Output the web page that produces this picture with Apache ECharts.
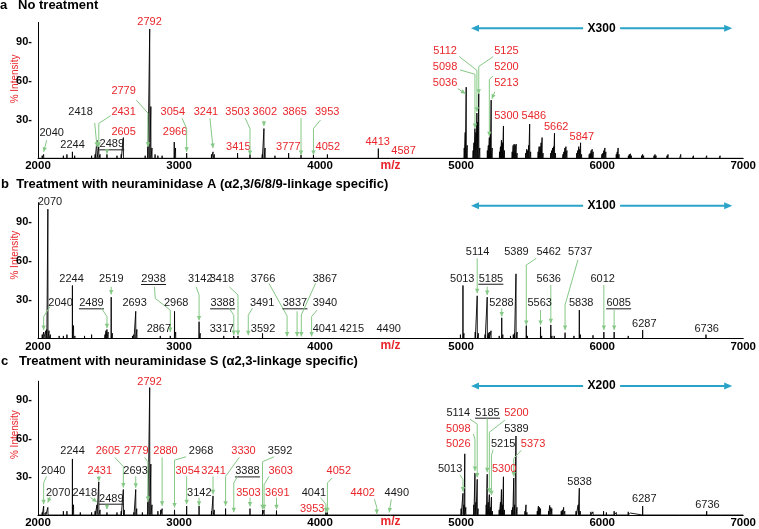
<!DOCTYPE html>
<html><head><meta charset="utf-8">
<script src="https://cdn.jsdelivr.net/npm/echarts@6/dist/echarts.min.js"></script>
<style>html,body{margin:0;padding:0;background:#fff}#c{width:759px;height:529px}</style>
</head><body><div id="c"></div>
<script>
// ---------------- spectra (m/z, % intensity) ----------------
const mzA = [2030,2040,2070,2180,2205,2244,2260,2300,2380,2405,2418,2431,2440,2489,2560,2590,2605,2700,2760,2779,2792,2800,2808,2830,2850,2880,2966,2975,3054,3230,3241,3250,3330,3415,3503,3590,3602,3610,3680,3777,3865,3953,4052,4413,4587,
 5022,5029,5036,5043,5085,5091,5098,5105,5112,5118,5125,5132,5186,5193,5200,5207,5213,5220,5272,5279,5286,5293,5300,5307,5362,5369,5376,5383,5390,5397,5458,5465,5472,5479,5486,5493,5546,5553,5560,5567,5574,5581,5635,5642,5649,5656,5662,5669,5722,5729,5736,5743,5750,5820,5827,5834,5841,5847,5854,5908,5915,5922,5929,5936,5998,6005,6012,6019,6026,6100,6107,6113,6120,6186,6193,6200,6207,6280,6287,6294,6368,6375,6382,6460,6467,6474,6550,6557,6564,6640,6647,6735,6741,6830,6836,6925,6930];
const intA = [2,3,1.5,2,3,5,2,1.5,2,3,14,9,3,3,2,3,16,1.5,2,9,100,40,8,3,2,2,12.5,8,4,3,5,3,1.5,4,3,3,23,8,2,4,2.5,2.5,3,7.5,1,
 8,20,55,10,6,12,23,20,35,28,50,8,6,10,16,20,45,8,5,9,14,12,25,6,5,10,11,10,11,4,4,7,6,10,26.5,5,5,9,9,12,16,4,4,6,8,9,19.5,4,3,5,8,9,6,4,6,9,7,12,3,3,4,6,7,5,3,4,6,8,5,3,5,8,3,2,3,3.5,2,2,3,2,2,3,2,2,3,1.5,1.5,3,1.5,1.5,2,1.5,2,1.5,2,1,1.5];

const mzB = [2030,2040,2055,2062,2070,2078,2088,2150,2180,2205,2244,2252,2262,2290,2330,2380,2420,2475,2482,2489,2497,2519,2527,2560,2670,2680,2693,2701,2760,2867,2938,2968,2976,3050,3142,3150,3317,3388,3418,3491,3592,3766,3837,3867,3940,4041,4215,4490,
 4995,5013,5020,5100,5114,5122,5170,5185,5193,5200,5212,5270,5288,5296,5350,5370,5378,5389,5397,5462,5470,5563,5571,5636,5644,5660,5737,5800,5838,5846,5935,6012,6085,6185,6287,6295,6380,6460,6540,6640,6736,6840,6930];
const intB = [3,5,6,7,100,6,3,2,2,3,41,10,2,1.5,2,3,1.5,3,6,7,5,32,4,1.5,2,3,21,7,1.5,2,2,21,5,1.5,13,4,2,2,2,1.5,4,1.5,1.5,1.5,1.5,1.5,1,1,
 3,41,4,5,33,4,3,32,4,5,6,2,16,3,2,3,4,50,5,10,2,9,2,10.5,2,2,4.5,2,22,3,2.5,5,5,2,6.5,1.5,1.5,1.5,1.5,1,3,1,1];

const mzC = [2030,2040,2055,2070,2180,2205,2244,2252,2300,2380,2405,2418,2431,2440,2489,2560,2590,2605,2612,2680,2693,2700,2740,2779,2792,2800,2808,2850,2870,2880,2968,3054,3142,3230,3241,3250,3330,3388,3503,3592,3603,3691,3953,4041,4052,4402,4490,
 5000,5013,5020,5026,5033,5090,5098,5105,5114,5120,5178,5185,5192,5200,5207,5215,5222,5270,5279,5286,5293,5300,5307,5360,5366,5373,5380,5389,5396,5453,5460,5467,5540,5548,5555,5563,5620,5628,5636,5643,5710,5718,5727,5735,5815,5830,5838,5845,5920,5935,6010,6030,6085,6100,6185,6200,6287,6295,6375,6460,6550,6640,6741,6840,6930];
const intC = [2,7,2,6,3,3,44,8,2,2,3,8,26,4,2,2,3,20,4,2,20,5,2,10,100,40,8,3,4,5,4,7,7,3,15,4,5,1.5,5,4,4,3.5,1,2,2,1,1,
 5,17,8,48,6,8,33,10,28,5,8,32,10,16,6,14,3,4,10,20,8,30,4,4,6,29,8,62,6,3,8,2,3,7,6,5,3,7.5,6,5,3,4,6,3,3,8,21,3,2.5,2.5,3,2,3,2,2.5,1.5,7,1.5,1.5,1.5,1.5,1.5,3,1,1];

// ---------------- peak annotations ----------------
const labA = ['2040','2244','2418','2431','2489','2605','2792','2779','2966','3054','3241','3415','3503','3602','3777','3865','3953','4052','4413','4587','5112','5125','5098','5200','5036','5213','5300','5486','5662','5847'];
const redA = [0,0,0,1,0,1,1,1,1,1,1,1,1,1,1,1,1,1,1,1,1,1,1,1,1,1,1,1,1,1];
const ulA  = ['2489'];
const labAx = [2097,2245,2302,2607,2523,2607,2791,2607,2972,2956,3191,3420,3415,3608,3775,3820,4050,4055,4408,4592,4886,5321,4886,5321,4886,5321,5321,5515,5674,5856];
const labAy = [19.8,10.3,36,36,10.8,20,105.2,52,20,36,36,9,36,36,9,36,36,9,12.8,5.6,83.2,83.2,70.8,70.8,58.5,58.5,32.7,32.7,24,16.7];
const arrA = [[[2062,14],[2040,5]], null, [[2402,27.3],[2418,9]], [[2516,33],[2431,27],[2431,9]], [[2489,6.5],[2489,3.5]], null, null,
 [[2697,45],[2779,35],[2779,9]], null, [[3021,31],[3054,23],[3054,5]], [[3219,31],[3241,8]], null, [[3469,31],[3503,23],[3503,2.5]],
 [[3602,29],[3602,25]], null, [[3865,31],[3865,2.5]], [[4003,29.6],[3953,23],[3953,2.5]], null, null, null,
 [[4987,78.6],[5112,68],[5112,36]], [[5227,78.6],[5125,71],[5125,50]], [[4992,68.3],[5098,65],[5098,23.5]], [[5227,63.7],[5200,61],[5200,17]],
 [[4975,54],[5030,50]], [[5239,51.5],[5218,46]], null, null, null, null];

const labB = ['2070','2040','2244','2489','2519','2693','2938','2867','2968','3142','3317','3388','3418','3491','3592','3766','3837','3867','3940','4041','4215','4490','5013','5114','5185','5288','5389','5462','5636','5563','5737','5838','6012','6085','6287','6736'];
const redB = labB.map(() => 0);
const ulB  = ['2489','2938','3388','3837','5185','6085'];
const labBx = [2085,2160,2238,2379,2520,2685,2819,2857,2980,3151,3304,3309,3304,3589,3596,3596,3822,4034,4034,4034,4225,4486,5008,5117,5211,5286,5392,5621,5621,5557,5844,5851,6004,6117,6299,6741];
const labBy = [105.3,27.2,46,27.2,46,27.2,46,7.1,27.2,46,7.1,27.2,46,27.2,7.1,46,27.2,46,27.2,7.1,7.1,7.1,46.2,66.7,46.2,27.2,66.7,66.7,46.2,27.2,66.7,27.2,46.2,27.2,11,7.4];
const arrB = [null, [[2085,24.6],[2040,17],[2040,6.5]], null, [[2450,23.4],[2489,17],[2489,8]], [[2519,40],[2519,34]], null,
 [[2826,40],[2831,31],[2938,22],[2938,5]], null, null, [[3121,40],[3142,33.6],[3142,14]], null,
 [[3356,23.4],[3388,18],[3388,2.7]], [[3356,40],[3418,33.6],[3418,2.7]], [[3520,23.4],[3491,18],[3491,2.5]], null,
 [[3638,42.5],[3766,17.4],[3766,1.6]], [[3837,21],[3837,1.6]], [[3968,42.7],[3867,18.2],[3867,1.6]], [[3979,22],[3940,17],[3940,1.6]],
 null, null, null, null, [[5114,62],[5114,35]], [[5185,40],[5185,33.6]], [[5288,23.4],[5288,17]], null,
 [[5533,62],[5462,56.8],[5462,10.4]], [[5636,41.4],[5636,11.8]], [[5563,22],[5563,10.4]], [[5828,60.7],[5737,26],[5737,6.6]], null,
 [[6012,41.4],[6012,6.6]], [[6085,22],[6085,6.6]], null, null];

const labC = ['2792','2244','2605','2779','2880','2968','3330','3592','2040','2431','2693','3054','3241','3388','3603','4052','2070','2418','2489','3142','3503','3691','4041','3953','4402','4490','5114','5185','5200','5098','5389','5026','5215','5373','5013','5300','5838','6287','6736'];
const redC = [1,0,1,1,1,0,1,0,0,1,0,1,1,0,1,1,0,0,0,0,1,1,0,1,1,0,0,0,1,1,0,1,0,1,0,1,0,0,0];
const ulC  = ['3388','2489','5185'];
const labCx = [2791,2245,2496,2697,2904,3156,3457,3716,2108,2438,2692,3061,3245,3485,3721,4133,2143,2332,2520,3144,3492,3697,3956,3944,4302,4544,4980,5187,5392,4980,5392,4980,5298,5510,4922,5305,5840,6299,6746];
const labCy = [104.2,50,50,50,50,50,50,50,34.2,34.2,34.2,34.2,34.2,34.2,34.2,34.2,17.5,17.5,12.8,17.5,17.5,17.5,17.5,4.6,17.5,17.5,80.3,80.3,80.3,67.5,67.5,55.9,55.9,55.9,35.9,35.9,25.7,12.8,8];
const arrC = [null, null, [[2544,45.2],[2605,38],[2605,21.5]], [[2756,45.2],[2779,41.8],[2779,11]], [[2880,45.2],[2880,7.2]],
 [[3050,45.7],[2968,43.1],[2968,5.9]], [[3427,45.2],[3330,30.3],[3330,7.2]], [[3674,45.7],[3592,41.8],[3592,4.6]],
 [[2061,30.3],[2040,25.2],[2040,8.5]], [[2431,30.3],[2431,26.5]], [[2693,30.3],[2693,21.3]], [[3054,30.3],[3054,8.5]], [[3241,30.3],[3241,16.2]],
 [[3415,30.3],[3388,25.2],[3388,2.1]], [[3638,30.3],[3603,23.8],[3603,4.6]], [[4085,29],[4052,25.2],[4052,2.1]],
 [[2085,14.4],[2070,9.8]], [[2372,13.6],[2418,10.3]], [[2489,7.2],[2489,4.6]], [[3142,13.6],[3142,7.2]], [[3503,13.6],[3503,6.7]], [[3691,13.6],[3691,4.6]],
 [[4003,13.6],[4041,8.5],[4041,2.1]], null, [[4385,12.3],[4402,6],[4402,0.8]], [[4505,12.3],[4490,2]],
 [[5063,75.2],[5114,71.3],[5114,29.5]], [[5185,75.9],[5185,33.5]], [[5310,74.4],[5200,64.9],[5200,17.5]], [[5086,63.6],[5098,59.8],[5098,34.5]],
 null, null, [[5227,51.3],[5215,46.9],[5215,15.5]], [[5427,50.8],[5373,44.4],[5373,30.3]], [[4992,31.5],[5013,27.7],[5013,18.5]], null, null, null, null];

// magnification ranges
const zoomText = ['X300','X100','X200'];
const zoomFrom = [5070,5070,5070];
const zoomTo = [6922,6922,6922];
const zoomAt = [100.5,102.7,101.3];

const titles = ['a   No treatment','b  Treatment with neuraminidase A (\u03b12,3/6/8/9-linkage specific)','c   Treatment with neuraminidase S (\u03b12,3-linkage specific)'];
const yTicks = [30,60,90];

// ---------------- drawing ----------------
const FF = '"Liberation Sans", Arial, Helvetica, sans-serif';
const RED = '#e8262b', GREEN = '#86c986', TEAL = '#2aa3c9', INK = '#1a1a1a';

function stickData(mz, it) {
  const idx = mz.map((m, i) => i).sort((a, b) => mz[a] - mz[b]);
  const pts = [[2000, 0]];
  idx.forEach(i => { pts.push([mz[i] - 0.8, 0], [mz[i], it[i]], [mz[i] + 0.8, 0]); });
  pts.push([7000, 0]);
  return pts;
}

function head(b, a, len, w) {
  const dx = b[0] - a[0], dy = b[1] - a[1];
  const L = Math.hypot(dx, dy) || 1, ux = dx / L, uy = dy / L;
  return [[b[0], b[1]], [b[0] - ux * len - uy * w, b[1] - uy * len + ux * w], [b[0] - ux * len + uy * w, b[1] - uy * len - ux * w]];
}

function annSeries(g, lab, red, ul, lx, ly, arr) {
  return {
    type: 'custom', xAxisIndex: g, yAxisIndex: g, clip: false, silent: true, z: 5,
    data: lab.map((t, i) => [lx[i], ly[i]]),
    renderItem: function (params, api) {
      const i = params.dataIndex;
      const p = api.coord([lx[i], ly[i]]);
      const col = red[i] ? RED : INK;
      const ch = [{ type: 'text', x: p[0], y: p[1], style: { text: lab[i], fill: col, font: '11px ' + FF, align: 'center', verticalAlign: 'middle' } }];
      if (ul.indexOf(lab[i]) >= 0) ch.push({ type: 'line', shape: { x1: p[0] - 12.5, y1: p[1] + 5.5, x2: p[0] + 12.5, y2: p[1] + 5.5 }, style: { stroke: col, lineWidth: 1 } });
      const a = arr[i];
      if (a) {
        const pts = a.map(q => api.coord(q));
        ch.push({ type: 'polyline', shape: { points: pts }, style: { stroke: GREEN, lineWidth: 1, fill: null } });
        ch.push({ type: 'polygon', shape: { points: head(pts[pts.length - 1], pts[pts.length - 2], 4.5, 2.2) }, style: { fill: GREEN } });
      }
      return { type: 'group', children: ch };
    }
  };
}

function rangeSeries(g) {
  return {
    type: 'custom', xAxisIndex: g, yAxisIndex: g, clip: false, silent: true, z: 6,
    data: [[zoomFrom[g], zoomAt[g]]],
    renderItem: function (params, api) {
      const p1 = api.coord([zoomFrom[g], zoomAt[g]]);
      const p2 = api.coord([zoomTo[g], zoomAt[g]]);
      const mid = [(p1[0] + p2[0]) / 2, p1[1]];
      return { type: 'group', children: [
        { type: 'line', shape: { x1: p1[0] + 4, y1: p1[1], x2: p2[0] - 4, y2: p2[1] }, style: { stroke: TEAL, lineWidth: 2 } },
        { type: 'polygon', shape: { points: head(p1, p2, 8, 3.5) }, style: { fill: TEAL } },
        { type: 'polygon', shape: { points: head(p2, p1, 8, 3.5) }, style: { fill: TEAL } },
        { type: 'rect', shape: { x: mid[0] - 18.5, y: mid[1] - 6, width: 37, height: 12 }, style: { fill: '#fff' } },
        { type: 'text', x: mid[0], y: mid[1], style: { text: zoomText[g], fill: '#000', font: 'bold 12px ' + FF, align: 'center', verticalAlign: 'middle' } }
      ] };
    }
  };
}

const gridPos = [{ top: 22.5, height: 135.8 }, { top: 202.7, height: 135.8 }, { top: 381.2, height: 136.5 }];
const namePad = [23, 31, 27];
const spectra = [stickData(mzA, intA), stickData(mzB, intB), stickData(mzC, intC)];
const titleTop = [-1, 178, 355];

const option = {
  animation: false,
  backgroundColor: '#fff',
  title: titles.map((t, i) => ({ text: t, left: i === 0 ? 0 : 1, top: titleTop[i], padding: 0,
    textStyle: { fontSize: 13, fontWeight: 'bold', color: '#000', fontFamily: FF } })),
  grid: gridPos.map(g => ({ left: 38, width: 708, top: g.top, height: g.height, containLabel: false })),
  xAxis: [0, 1, 2].map(i => ({
    gridIndex: i, type: 'value', min: 2000, max: 7000, interval: 1000,
    axisLine: { show: true, onZero: false, lineStyle: { color: '#000', width: 1 } },
    axisTick: { show: false }, splitLine: { show: false },
    axisLabel: { color: '#000', fontWeight: 'bold', fontSize: 11.5, fontFamily: FF, margin: 2, formatter: v => String(v) },
    name: 'm/z', nameLocation: 'middle', nameGap: 1, nameMoveOverlap: false,
    nameTextStyle: { color: RED, fontWeight: 'bold', fontSize: 12, fontFamily: FF, verticalAlign: 'top' }
  })),
  yAxis: [0, 1, 2].map(i => ({
    gridIndex: i, type: 'value', min: 0, max: 105, interval: 30,
    axisLine: { show: true, lineStyle: { color: '#000', width: 1 } },
    axisTick: { show: false }, splitLine: { show: false },
    axisLabel: { customValues: yTicks, color: '#000', fontWeight: 'bold', fontSize: 11, fontFamily: FF, margin: 6,
      formatter: v => (yTicks.indexOf(v) >= 0 ? v + '-' : '') },
    name: '% Intensity', nameLocation: 'middle', nameGap: 17.5, nameMoveOverlap: false,
    nameTextStyle: { color: RED, fontSize: 10, fontFamily: FF, padding: [0, 0, 0, namePad[i]] }
  })),
  series: [0, 1, 2].map(i => ({
    type: 'line', xAxisIndex: i, yAxisIndex: i, data: spectra[i], symbol: 'none', silent: true,
    sampling: null, lineStyle: { color: '#000', width: 0.9 }, z: 3
  })).concat([
    annSeries(0, labA, redA, ulA, labAx, labAy, arrA),
    annSeries(1, labB, redB, ulB, labBx, labBy, arrB),
    annSeries(2, labC, redC, ulC, labCx, labCy, arrC),
    rangeSeries(0), rangeSeries(1), rangeSeries(2)
  ])
};

const chart = echarts.init(document.getElementById('c'), null, { renderer: 'canvas' });
chart.setOption(option);
</script>
</body></html>
